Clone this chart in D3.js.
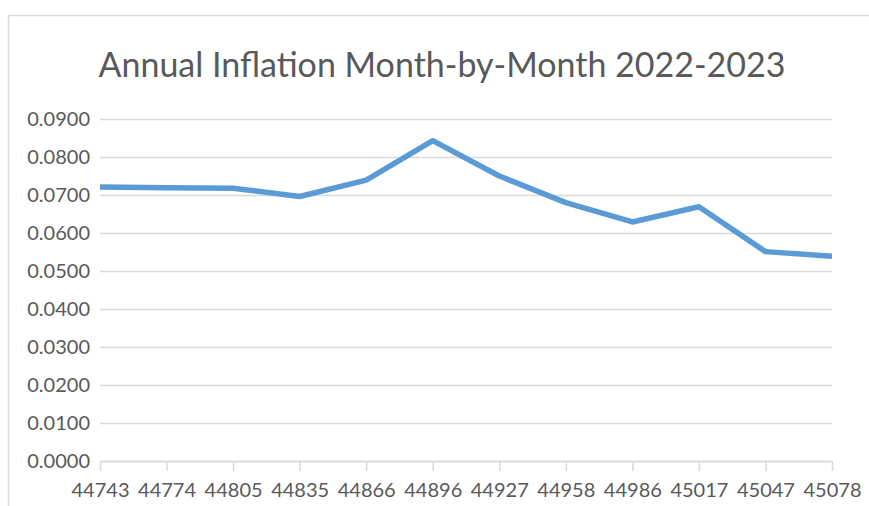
<!DOCTYPE html>
<html>
<head>
<meta charset="utf-8">
<script src="https://cdn.jsdelivr.net/npm/d3@7"></script>
<style>
  html, body { margin: 0; padding: 0; background: #fff; overflow: hidden; }
  #inflationChart text { font-family: Lato, "Open Sans", sans-serif; fill: #595959; }
</style>
</head>
<body>
<div id="inflationChart"></div>
<script>
// Excel serial dates for each month (Jul 2022 - Jun 2023)
const months = ["44743", "44774", "44805", "44835", "44866", "44896",
                "44927", "44958", "44986", "45017", "45047", "45078"];
const inflation = [0.0721, 0.0719, 0.0718, 0.0696, 0.0739, 0.0843,
                   0.0750, 0.0680, 0.0629, 0.0669, 0.0551, 0.0539];
const yTicks = [0, 0.01, 0.02, 0.03, 0.04, 0.05, 0.06, 0.07, 0.08, 0.09];
const chartTitle = "Annual Inflation Month-by-Month 2022-2023";

const size = {
    width: 869,
    height: 506,
    margin: { top: 119, right: 37, bottom: 45, left: 100 }
};
const innerW = size.width - size.margin.left - size.margin.right;
const innerH = size.height - size.margin.top - size.margin.bottom;

const xScale = d3.scalePoint()
                .domain(months)
                .range([0, innerW]);

const yScale = d3.scaleLinear()
                .domain([0, 0.09])
                .range([innerH, 0]);

const svg = d3.select("#inflationChart")
            .append("svg")
            .attr("width", size.width)
            .attr("height", size.height);

// chart area border
svg.append("rect")
.attr("x", 8.5)
.attr("y", 15.5)
.attr("width", size.width + 10)
.attr("height", size.height)
.attr("fill", "none")
.attr("stroke", "#d9d9d9")
.attr("stroke-width", 1.5);

// Title
svg.append("text")
.attr("x", 442)
.attr("y", 77)
.attr("text-anchor", "middle")
.attr("font-size", 34)
.text(chartTitle);

const g = svg.append("g")
        .attr("transform", `translate(${size.margin.left}, ${size.margin.top})`);

// Gridlines + Y labels
const yAxis = g.append("g")
    .call(d3.axisLeft(yScale)
        .tickValues(yTicks)
        .tickSize(-innerW)
        .tickPadding(8)
        .tickFormat(d3.format(".4f")));
yAxis.select(".domain").remove();
yAxis.selectAll("line")
    .attr("stroke", "#d9d9d9")
    .attr("stroke-width", 1.5);
yAxis.selectAll("text")
    .attr("font-size", 20)
    .attr("x", -10);

// X axis
const xAxis = g.append("g")
    .attr("transform", `translate(0, ${innerH})`)
    .call(d3.axisBottom(xScale).tickSize(10).tickPadding(12).tickSizeOuter(0));
xAxis.select(".domain").attr("stroke", "#d9d9d9").attr("stroke-width", 1.5);
xAxis.selectAll("line").attr("stroke", "#d9d9d9").attr("stroke-width", 1.5);
xAxis.selectAll("text").attr("font-size", 20);

// Data line
const valueline = d3.line()
    .x((d, i) => xScale(months[i]))
    .y((d) => yScale(d));

g.append("path")
.attr("fill", "none")
.attr("stroke", "#5b9bd5")
.attr("stroke-width", 5.5)
.attr("stroke-linejoin", "round")
.attr("d", valueline(inflation));
</script>
</body>
</html>
